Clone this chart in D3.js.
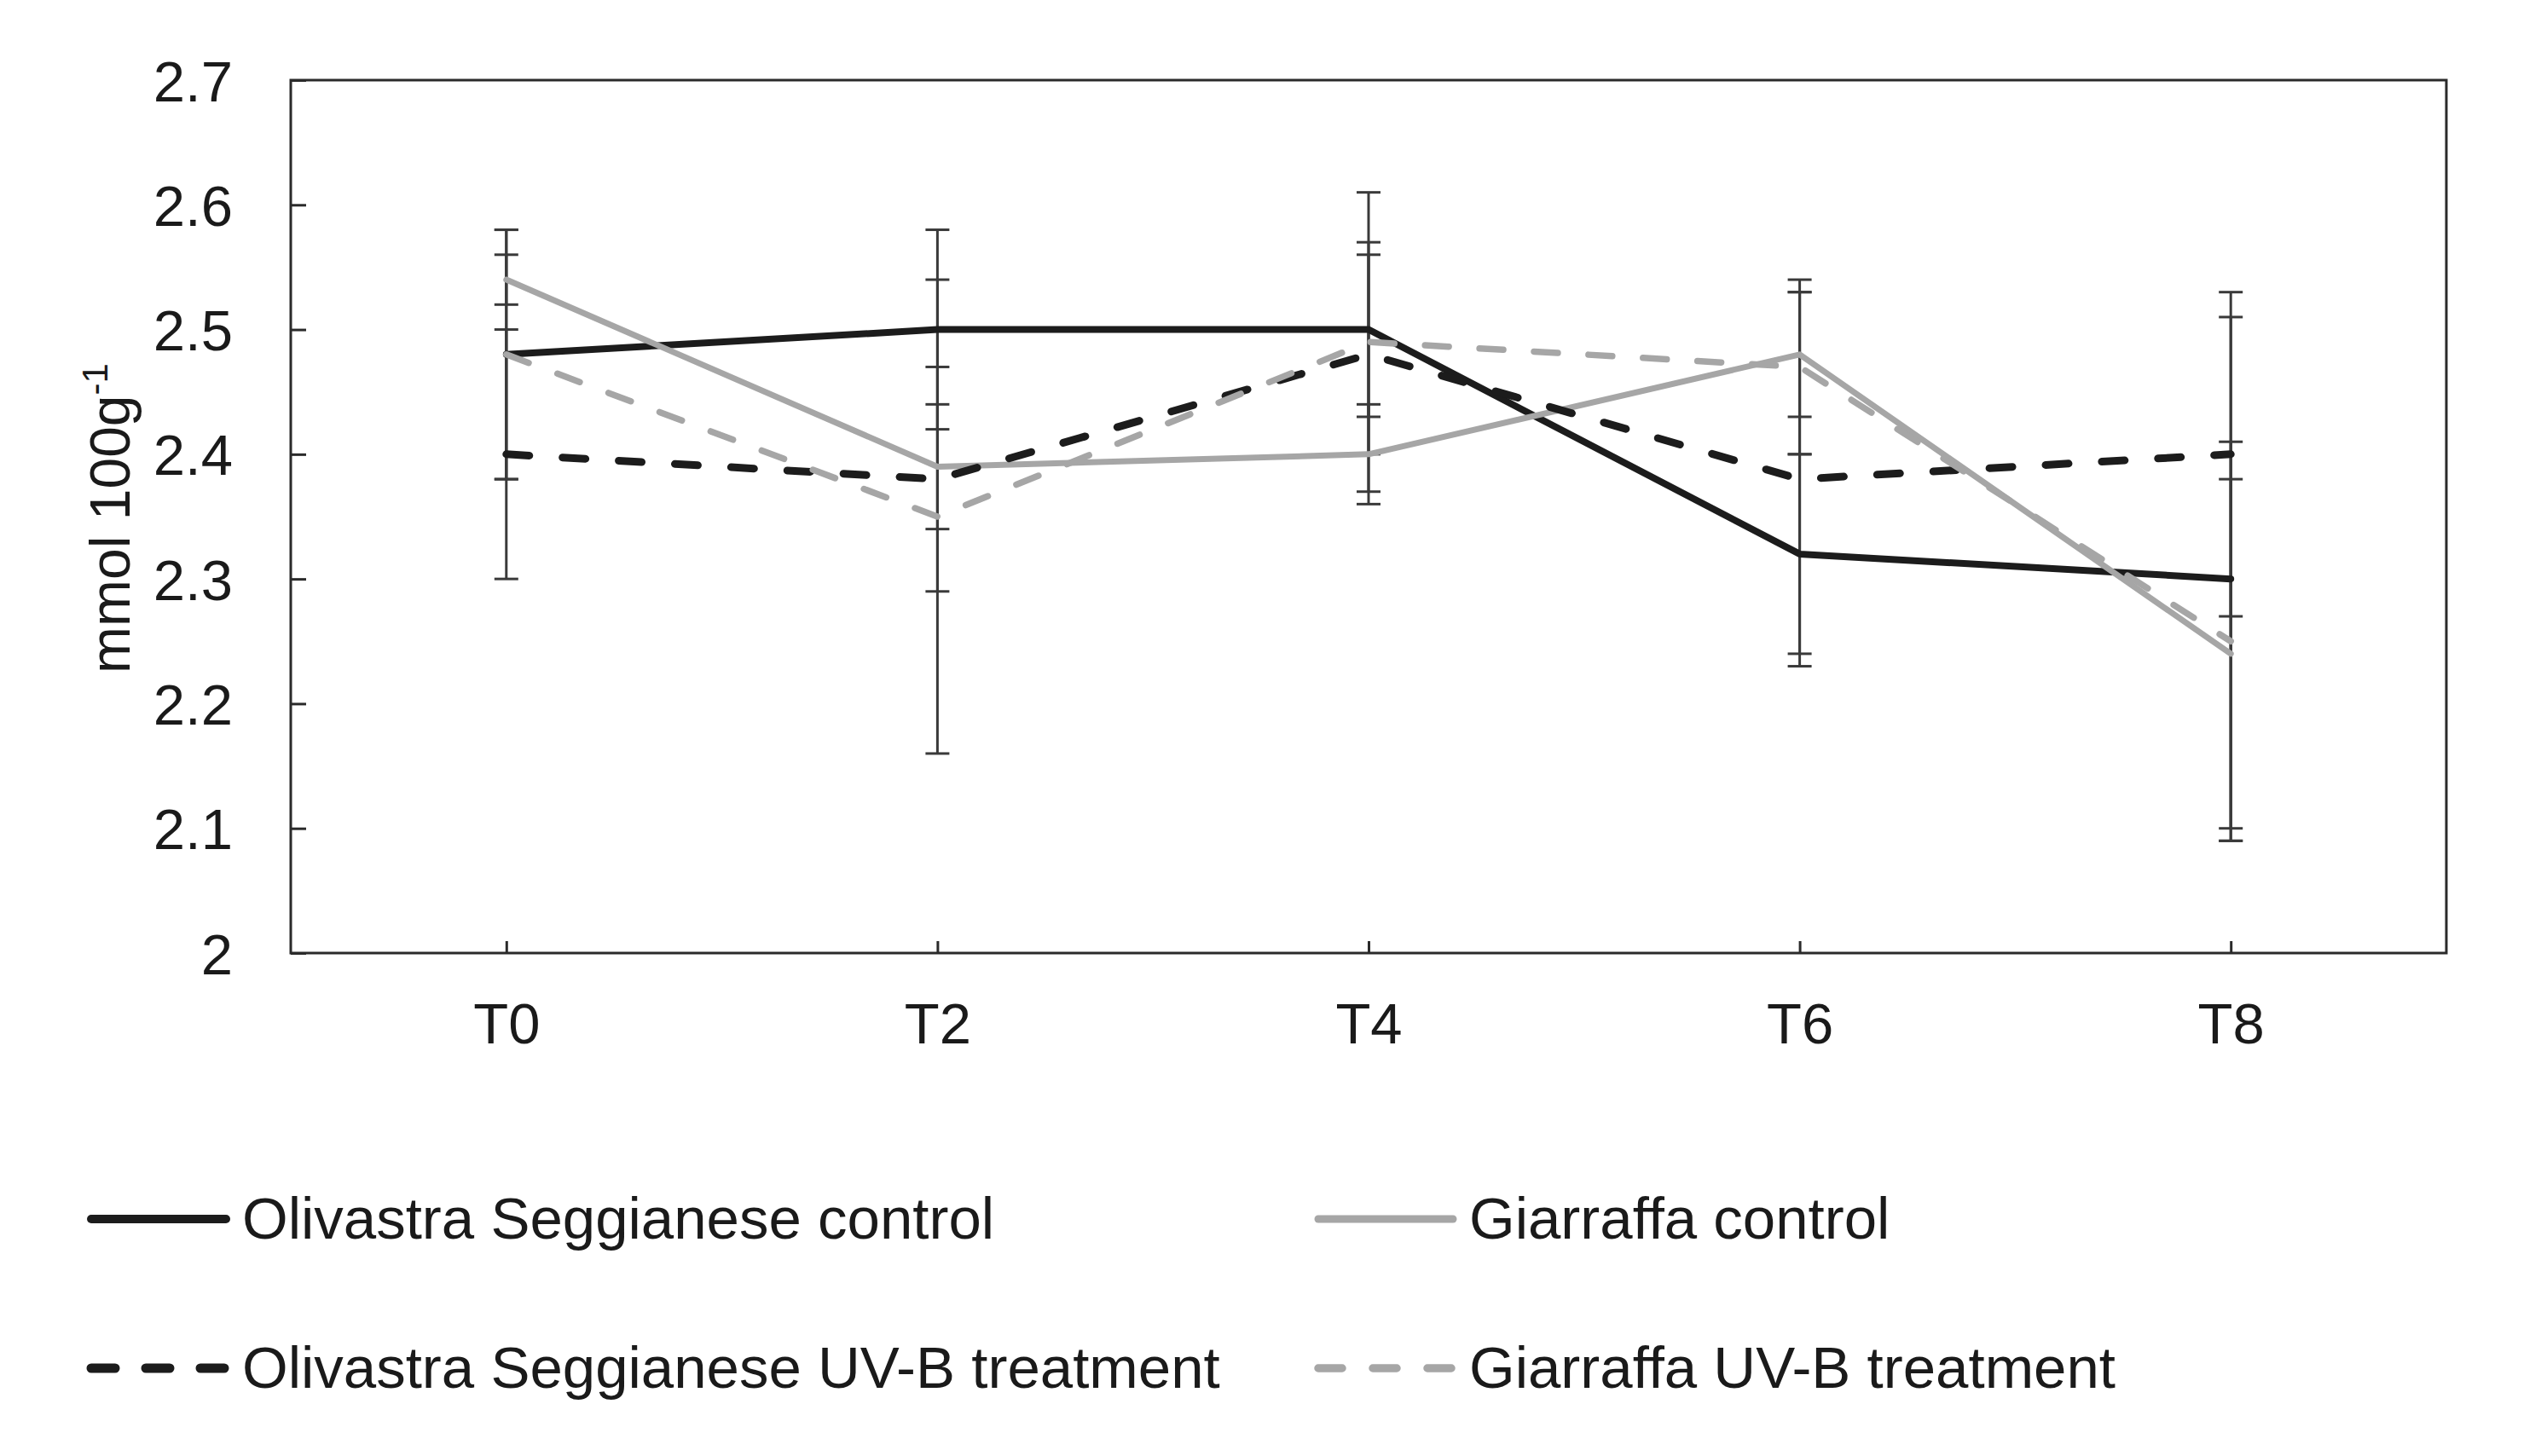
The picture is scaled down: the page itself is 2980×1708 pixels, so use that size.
<!DOCTYPE html>
<html>
<head>
<meta charset="utf-8">
<script src="https://cdn.jsdelivr.net/npm/d3@7"></script>
<style>
  body { margin: 0; background: #fff; }
  svg { display: block; font-family: "Liberation Sans", Arial, sans-serif; }
</style>
</head>
<body>
<svg id="chart" width="2980" height="1708"></svg>
<script>
// Data
const categories = ["T0", "T2", "T4", "T6", "T8"];
const seriesNames = [
  "Olivastra Seggianese control",
  "Giarraffa control",
  "Olivastra Seggianese UV-B treatment",
  "Giarraffa UV-B treatment"
];
const olivControl    = [2.48, 2.50, 2.50, 2.32, 2.30];
const olivControlErr = [0.10, 0.08, 0.07, 0.08, 0.21];
const giarControl    = [2.54, 2.39, 2.40, 2.48, 2.24];
const giarControlErr = [0.02, 0.05, 0.04, 0.05, 0.14];
const olivUvb        = [2.40, 2.38, 2.48, 2.38, 2.40];
const olivUvbErr     = [0.10, 0.09, 0.08, 0.15, 0.13];
const giarUvb        = [2.48, 2.35, 2.49, 2.47, 2.25];
const giarUvbErr     = [0.10, 0.19, 0.12, 0.07, 0.16];
const yTicks = [2, 2.1, 2.2, 2.3, 2.4, 2.5, 2.6, 2.7];

// Styling of each series
const blackColor = "#1c1c1c";
const grayColor = "#a6a6a6";
const series = [
  { name: seriesNames[0], values: olivControl, err: olivControlErr, color: blackColor, width: 8, dash: null },
  { name: seriesNames[1], values: giarControl, err: giarControlErr, color: grayColor, width: 7, dash: null },
  { name: seriesNames[2], values: olivUvb, err: olivUvbErr, color: blackColor, width: 9, dash: "27,39" },
  { name: seriesNames[3], values: giarUvb, err: giarUvbErr, color: grayColor, width: 7.5, dash: "28,36" }
];

let svg = d3.select("svg#chart");

// Plot area
let margin = { "top": 94, "left": 341, "right": 2869, "bottom": 1118 };
const axisColor = "#2a2a2a";
const textColor = "#1a1a1a";

const xScale = d3.scalePoint()
  .domain(categories)
  .range([margin.left, margin.right])
  .padding(0.5);

const yScale = d3.scaleLinear()
  .domain([2, 2.7])
  .range([margin.bottom, margin.top]);

// Error bars
let errGroup = svg.append("g");
series.forEach(s => {
  s.values.forEach((v, i) => {
    let x = xScale(categories[i]);
    let y1 = yScale(v + s.err[i]);
    let y2 = yScale(v - s.err[i]);
    errGroup.append("line")
      .attr("x1", x).attr("x2", x)
      .attr("y1", y1).attr("y2", y2)
      .attr("stroke", "#3a3a3a").attr("stroke-width", 3);
    [y1, y2].forEach(y => {
      errGroup.append("line")
        .attr("x1", x - 14).attr("x2", x + 14)
        .attr("y1", y).attr("y2", y)
        .attr("stroke", "#3a3a3a").attr("stroke-width", 3);
    });
  });
});

// Series lines
let line = d3.line()
  .x((d, i) => xScale(categories[i]))
  .y(d => yScale(d));

series.forEach(s => {
  svg.append("path")
    .datum(s.values)
    .attr("d", line)
    .attr("fill", "none")
    .attr("stroke", s.color)
    .attr("stroke-width", s.width)
    .attr("stroke-linecap", "round")
    .attr("stroke-linejoin", "round")
    .attr("stroke-dasharray", s.dash);
});

// Frame
svg.append("rect")
  .attr("x", margin.left)
  .attr("y", margin.top)
  .attr("width", margin.right - margin.left)
  .attr("height", margin.bottom - margin.top)
  .attr("fill", "none")
  .attr("stroke", axisColor)
  .attr("stroke-width", 3);

// Y axis: inner ticks, labels on the left
let leftAxis = d3.axisLeft(yScale)
  .tickValues(yTicks)
  .tickSize(-18)
  .tickPadding(68)
  .tickFormat(d3.format(".1~f"));

let yAxisG = svg.append("g")
  .attr("transform", "translate(" + margin.left + ",0)")
  .call(leftAxis);
yAxisG.select(".domain").remove();
yAxisG.selectAll(".tick line").attr("stroke", axisColor).attr("stroke-width", 3);
yAxisG.selectAll(".tick text")
  .attr("font-size", "67px")
  .attr("fill", textColor)
  .attr("font-family", "Liberation Sans, Arial, sans-serif")
  .attr("dy", "0.36em");

// X axis: inner ticks at category centers
let bottomAxis = d3.axisBottom(xScale)
  .tickSize(-14)
  .tickPadding(58);

let xAxisG = svg.append("g")
  .attr("transform", "translate(0," + margin.bottom + ")")
  .call(bottomAxis);
xAxisG.select(".domain").remove();
xAxisG.selectAll(".tick line").attr("stroke", axisColor).attr("stroke-width", 3);
xAxisG.selectAll(".tick text")
  .attr("font-size", "67px")
  .attr("fill", textColor)
  .attr("font-family", "Liberation Sans, Arial, sans-serif");

// Y axis title
let yTitle = svg.append("text")
  .attr("transform", "translate(152," + ((margin.top + margin.bottom) / 2 + 2) + ") rotate(-90)")
  .attr("text-anchor", "middle")
  .attr("font-size", "66px")
  .attr("fill", textColor);
yTitle.append("tspan").text("mmol 100g");
yTitle.append("tspan").attr("font-size", "42px").attr("dy", "-26").text("-1");

// Legend
const legendPos = [
  { x: 103, y: 1430 },
  { x: 1542, y: 1430 },
  { x: 103, y: 1605 },
  { x: 1542, y: 1605 }
];
series.forEach((s, i) => {
  let p = legendPos[i];
  svg.append("line")
    .attr("x1", p.x + 4).attr("x2", p.x + 162)
    .attr("y1", p.y).attr("y2", p.y)
    .attr("stroke", s.color)
    .attr("stroke-width", s.width + 2)
    .attr("stroke-linecap", "round")
    .attr("stroke-dasharray", s.dash ? "28,36" : null);
  svg.append("text")
    .attr("x", p.x + 181)
    .attr("y", p.y + 23)
    .attr("font-size", "69px")
    .attr("fill", textColor)
    .text(s.name);
});
</script>
</body>
</html>
